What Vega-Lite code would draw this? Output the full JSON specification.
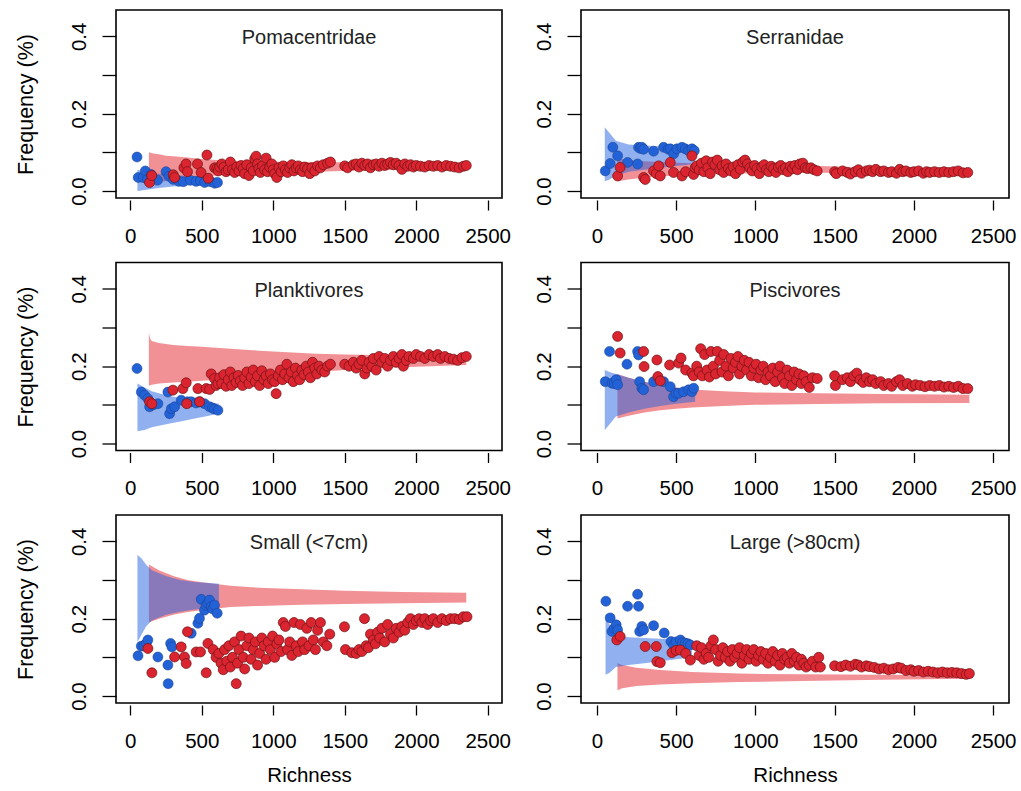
{
"$schema": "https://vega.github.io/schema/vega-lite/v6.json",
"padding": {"left": 14, "top": 9, "right": 0, "bottom": 0},
"background": "white",
"columns": 2,
"align": "each",
"bounds": "flush",
"spacing": {"row": 64.5, "column": 79},
"datasets": {
"rb1": [{"x":130,"y":0.015,"hi":0.1},{"x":160,"y":0.02,"hi":0.097},{"x":200,"y":0.022,"hi":0.095},{"x":250,"y":0.026,"hi":0.091},{"x":300,"y":0.028,"hi":0.09},{"x":400,"y":0.032,"hi":0.087},{"x":500,"y":0.036,"hi":0.083},{"x":600,"y":0.04,"hi":0.08},{"x":800,"y":0.044,"hi":0.077},{"x":1000,"y":0.047,"hi":0.076},{"x":1300,"y":0.05,"hi":0.075},{"x":1600,"y":0.053,"hi":0.074},{"x":2000,"y":0.055,"hi":0.073},{"x":2350,"y":0.057,"hi":0.072}],
"bb1": [{"x":50,"y":0.0,"hi":0.055},{"x":100,"y":0.003,"hi":0.05},{"x":200,"y":0.008,"hi":0.045},{"x":300,"y":0.012,"hi":0.042},{"x":400,"y":0.014,"hi":0.039},{"x":500,"y":0.016,"hi":0.037},{"x":610,"y":0.018,"hi":0.035}],
"b1": [{"x":47,"y":0.088},{"x":55,"y":0.035},{"x":90,"y":0.035},{"x":105,"y":0.052},{"x":120,"y":0.03},{"x":145,"y":0.043},{"x":190,"y":0.028},{"x":250,"y":0.05},{"x":270,"y":0.038},{"x":300,"y":0.03},{"x":340,"y":0.025},{"x":370,"y":0.024},{"x":420,"y":0.028},{"x":460,"y":0.025},{"x":490,"y":0.027},{"x":520,"y":0.022},{"x":560,"y":0.024},{"x":590,"y":0.02},{"x":610,"y":0.022}],
"r1": [{"x":135,"y":0.022},{"x":150,"y":0.04},{"x":300,"y":0.042},{"x":310,"y":0.035},{"x":375,"y":0.06},{"x":390,"y":0.07},{"x":400,"y":0.05},{"x":470,"y":0.07},{"x":495,"y":0.048},{"x":536,"y":0.093},{"x":545,"y":0.033},{"x":590,"y":0.06},{"x":605,"y":0.058},{"x":615,"y":0.052},{"x":625,"y":0.062},{"x":640,"y":0.07},{"x":655,"y":0.062},{"x":670,"y":0.05},{"x":685,"y":0.055},{"x":700,"y":0.075},{"x":715,"y":0.055},{"x":730,"y":0.048},{"x":745,"y":0.062},{"x":760,"y":0.052},{"x":775,"y":0.066},{"x":790,"y":0.058},{"x":800,"y":0.045},{"x":815,"y":0.068},{"x":830,"y":0.04},{"x":845,"y":0.06},{"x":860,"y":0.052},{"x":870,"y":0.083},{"x":880,"y":0.09},{"x":890,"y":0.07},{"x":900,"y":0.058},{"x":910,"y":0.048},{"x":925,"y":0.065},{"x":940,"y":0.055},{"x":950,"y":0.085},{"x":960,"y":0.05},{"x":975,"y":0.062},{"x":990,"y":0.07},{"x":1000,"y":0.055},{"x":1010,"y":0.045},{"x":1025,"y":0.035},{"x":1040,"y":0.06},{"x":1055,"y":0.05},{"x":1070,"y":0.065},{"x":1085,"y":0.055},{"x":1100,"y":0.048},{"x":1115,"y":0.06},{"x":1130,"y":0.068},{"x":1145,"y":0.052},{"x":1160,"y":0.06},{"x":1175,"y":0.065},{"x":1190,"y":0.055},{"x":1205,"y":0.05},{"x":1220,"y":0.062},{"x":1240,"y":0.058},{"x":1255,"y":0.045},{"x":1270,"y":0.06},{"x":1290,"y":0.052},{"x":1310,"y":0.065},{"x":1330,"y":0.06},{"x":1350,"y":0.068},{"x":1380,"y":0.072},{"x":1400,"y":0.075},{"x":1500,"y":0.065},{"x":1520,"y":0.06},{"x":1560,"y":0.068},{"x":1580,"y":0.07},{"x":1600,"y":0.062},{"x":1620,"y":0.072},{"x":1640,"y":0.066},{"x":1660,"y":0.07},{"x":1680,"y":0.06},{"x":1700,"y":0.068},{"x":1720,"y":0.07},{"x":1740,"y":0.064},{"x":1760,"y":0.072},{"x":1780,"y":0.066},{"x":1800,"y":0.07},{"x":1820,"y":0.074},{"x":1840,"y":0.068},{"x":1860,"y":0.072},{"x":1880,"y":0.066},{"x":1900,"y":0.056},{"x":1920,"y":0.07},{"x":1940,"y":0.064},{"x":1960,"y":0.068},{"x":1980,"y":0.062},{"x":2000,"y":0.066},{"x":2030,"y":0.064},{"x":2060,"y":0.062},{"x":2090,"y":0.066},{"x":2120,"y":0.064},{"x":2150,"y":0.066},{"x":2180,"y":0.062},{"x":2210,"y":0.066},{"x":2240,"y":0.064},{"x":2270,"y":0.062},{"x":2300,"y":0.06},{"x":2330,"y":0.064},{"x":2350,"y":0.066}],
"rb2": [{"x":130,"y":0.025,"hi":0.085},{"x":200,"y":0.03,"hi":0.08},{"x":300,"y":0.035,"hi":0.077},{"x":400,"y":0.038,"hi":0.075},{"x":600,"y":0.042,"hi":0.072},{"x":800,"y":0.045,"hi":0.07},{"x":1000,"y":0.046,"hi":0.068},{"x":1400,"y":0.047,"hi":0.065},{"x":1800,"y":0.046,"hi":0.06},{"x":2350,"y":0.044,"hi":0.057}],
"bb2": [{"x":50,"y":0.025,"hi":0.165},{"x":80,"y":0.03,"hi":0.15},{"x":120,"y":0.04,"hi":0.13},{"x":200,"y":0.05,"hi":0.12},{"x":300,"y":0.055,"hi":0.118},{"x":400,"y":0.06,"hi":0.116},{"x":500,"y":0.065,"hi":0.114},{"x":620,"y":0.07,"hi":0.112}],
"b2": [{"x":53,"y":0.052},{"x":84,"y":0.071},{"x":101,"y":0.113},{"x":131,"y":0.091},{"x":194,"y":0.074},{"x":257,"y":0.07},{"x":263,"y":0.113},{"x":275,"y":0.11},{"x":284,"y":0.113},{"x":295,"y":0.108},{"x":358,"y":0.103},{"x":421,"y":0.113},{"x":450,"y":0.108},{"x":463,"y":0.109},{"x":484,"y":0.096},{"x":505,"y":0.109},{"x":537,"y":0.113},{"x":558,"y":0.109},{"x":579,"y":0.104},{"x":600,"y":0.109},{"x":615,"y":0.104}],
"r2": [{"x":131,"y":0.039},{"x":147,"y":0.061},{"x":295,"y":0.035},{"x":305,"y":0.03},{"x":358,"y":0.052},{"x":375,"y":0.045},{"x":390,"y":0.065},{"x":400,"y":0.039},{"x":463,"y":0.074},{"x":484,"y":0.048},{"x":537,"y":0.039},{"x":560,"y":0.05},{"x":600,"y":0.091},{"x":610,"y":0.043},{"x":620,"y":0.06},{"x":630,"y":0.065},{"x":645,"y":0.055},{"x":660,"y":0.072},{"x":675,"y":0.05},{"x":690,"y":0.078},{"x":700,"y":0.06},{"x":715,"y":0.045},{"x":730,"y":0.075},{"x":745,"y":0.068},{"x":760,"y":0.08},{"x":775,"y":0.055},{"x":790,"y":0.065},{"x":800,"y":0.048},{"x":815,"y":0.07},{"x":830,"y":0.058},{"x":845,"y":0.052},{"x":860,"y":0.062},{"x":875,"y":0.045},{"x":890,"y":0.068},{"x":905,"y":0.056},{"x":920,"y":0.075},{"x":935,"y":0.08},{"x":950,"y":0.07},{"x":965,"y":0.06},{"x":980,"y":0.052},{"x":995,"y":0.066},{"x":1010,"y":0.058},{"x":1025,"y":0.045},{"x":1040,"y":0.062},{"x":1055,"y":0.068},{"x":1070,"y":0.055},{"x":1085,"y":0.05},{"x":1100,"y":0.064},{"x":1115,"y":0.058},{"x":1130,"y":0.048},{"x":1145,"y":0.062},{"x":1160,"y":0.066},{"x":1175,"y":0.055},{"x":1190,"y":0.06},{"x":1205,"y":0.05},{"x":1220,"y":0.064},{"x":1235,"y":0.058},{"x":1250,"y":0.066},{"x":1265,"y":0.055},{"x":1280,"y":0.07},{"x":1300,"y":0.072},{"x":1315,"y":0.06},{"x":1330,"y":0.058},{"x":1350,"y":0.06},{"x":1370,"y":0.055},{"x":1390,"y":0.052},{"x":1500,"y":0.05},{"x":1510,"y":0.045},{"x":1550,"y":0.052},{"x":1580,"y":0.048},{"x":1600,"y":0.044},{"x":1630,"y":0.05},{"x":1650,"y":0.055},{"x":1670,"y":0.046},{"x":1700,"y":0.052},{"x":1720,"y":0.054},{"x":1740,"y":0.05},{"x":1760,"y":0.056},{"x":1790,"y":0.05},{"x":1810,"y":0.052},{"x":1840,"y":0.048},{"x":1860,"y":0.05},{"x":1890,"y":0.046},{"x":1910,"y":0.056},{"x":1930,"y":0.05},{"x":1950,"y":0.052},{"x":1980,"y":0.048},{"x":2000,"y":0.05},{"x":2030,"y":0.052},{"x":2060,"y":0.046},{"x":2080,"y":0.05},{"x":2100,"y":0.048},{"x":2130,"y":0.05},{"x":2160,"y":0.048},{"x":2190,"y":0.05},{"x":2220,"y":0.048},{"x":2250,"y":0.05},{"x":2280,"y":0.052},{"x":2310,"y":0.047},{"x":2340,"y":0.048}],
"rb3": [{"x":130,"y":0.15,"hi":0.285},{"x":140,"y":0.15,"hi":0.27},{"x":150,"y":0.152,"hi":0.265},{"x":200,"y":0.155,"hi":0.26},{"x":300,"y":0.158,"hi":0.255},{"x":400,"y":0.16,"hi":0.252},{"x":500,"y":0.162,"hi":0.25},{"x":700,"y":0.167,"hi":0.245},{"x":900,"y":0.172,"hi":0.24},{"x":1100,"y":0.178,"hi":0.236},{"x":1300,"y":0.185,"hi":0.232},{"x":1500,"y":0.19,"hi":0.23},{"x":1800,"y":0.196,"hi":0.228},{"x":2100,"y":0.2,"hi":0.227},{"x":2350,"y":0.203,"hi":0.226}],
"bb3": [{"x":50,"y":0.032,"hi":0.155},{"x":100,"y":0.035,"hi":0.145},{"x":150,"y":0.042,"hi":0.135},{"x":250,"y":0.05,"hi":0.125},{"x":350,"y":0.057,"hi":0.118},{"x":450,"y":0.065,"hi":0.112},{"x":550,"y":0.072,"hi":0.107},{"x":620,"y":0.078,"hi":0.103}],
"b3": [{"x":47,"y":0.194},{"x":77,"y":0.133},{"x":100,"y":0.125},{"x":123,"y":0.116},{"x":135,"y":0.095},{"x":160,"y":0.1},{"x":193,"y":0.103},{"x":263,"y":0.133},{"x":275,"y":0.077},{"x":287,"y":0.09},{"x":310,"y":0.095},{"x":356,"y":0.112},{"x":400,"y":0.108},{"x":426,"y":0.108},{"x":460,"y":0.105},{"x":485,"y":0.108},{"x":519,"y":0.103},{"x":554,"y":0.095},{"x":575,"y":0.092},{"x":589,"y":0.089},{"x":613,"y":0.086}],
"r3": [{"x":135,"y":0.108},{"x":151,"y":0.103},{"x":298,"y":0.138},{"x":368,"y":0.142},{"x":391,"y":0.157},{"x":395,"y":0.103},{"x":473,"y":0.142},{"x":485,"y":0.108},{"x":531,"y":0.142},{"x":555,"y":0.14},{"x":566,"y":0.18},{"x":589,"y":0.168},{"x":600,"y":0.15},{"x":613,"y":0.155},{"x":625,"y":0.17},{"x":640,"y":0.155},{"x":655,"y":0.178},{"x":670,"y":0.148},{"x":685,"y":0.165},{"x":700,"y":0.185},{"x":710,"y":0.15},{"x":725,"y":0.17},{"x":740,"y":0.158},{"x":755,"y":0.176},{"x":770,"y":0.162},{"x":785,"y":0.15},{"x":800,"y":0.17},{"x":815,"y":0.185},{"x":830,"y":0.155},{"x":845,"y":0.172},{"x":860,"y":0.19},{"x":875,"y":0.16},{"x":890,"y":0.175},{"x":905,"y":0.15},{"x":920,"y":0.188},{"x":935,"y":0.165},{"x":950,"y":0.175},{"x":965,"y":0.155},{"x":980,"y":0.18},{"x":995,"y":0.165},{"x":1010,"y":0.16},{"x":1020,"y":0.129},{"x":1035,"y":0.175},{"x":1050,"y":0.19},{"x":1065,"y":0.165},{"x":1080,"y":0.18},{"x":1095,"y":0.205},{"x":1110,"y":0.17},{"x":1125,"y":0.185},{"x":1140,"y":0.16},{"x":1155,"y":0.195},{"x":1170,"y":0.175},{"x":1185,"y":0.165},{"x":1200,"y":0.19},{"x":1215,"y":0.178},{"x":1230,"y":0.2},{"x":1245,"y":0.185},{"x":1260,"y":0.17},{"x":1275,"y":0.21},{"x":1290,"y":0.195},{"x":1305,"y":0.18},{"x":1320,"y":0.2},{"x":1340,"y":0.19},{"x":1360,"y":0.185},{"x":1380,"y":0.2},{"x":1400,"y":0.205},{"x":1500,"y":0.205},{"x":1530,"y":0.2},{"x":1560,"y":0.21},{"x":1580,"y":0.195},{"x":1600,"y":0.205},{"x":1620,"y":0.215},{"x":1640,"y":0.18},{"x":1655,"y":0.195},{"x":1670,"y":0.21},{"x":1690,"y":0.2},{"x":1700,"y":0.22},{"x":1720,"y":0.19},{"x":1740,"y":0.225},{"x":1760,"y":0.21},{"x":1780,"y":0.22},{"x":1800,"y":0.2},{"x":1820,"y":0.215},{"x":1840,"y":0.225},{"x":1860,"y":0.21},{"x":1880,"y":0.22},{"x":1900,"y":0.23},{"x":1910,"y":0.2},{"x":1930,"y":0.215},{"x":1950,"y":0.225},{"x":1980,"y":0.22},{"x":2000,"y":0.23},{"x":2030,"y":0.225},{"x":2060,"y":0.22},{"x":2090,"y":0.23},{"x":2120,"y":0.225},{"x":2150,"y":0.23},{"x":2170,"y":0.22},{"x":2200,"y":0.225},{"x":2230,"y":0.22},{"x":2260,"y":0.218},{"x":2290,"y":0.215},{"x":2320,"y":0.222},{"x":2350,"y":0.225}],
"rb4": [{"x":130,"y":0.065,"hi":0.18},{"x":200,"y":0.072,"hi":0.17},{"x":300,"y":0.08,"hi":0.16},{"x":400,"y":0.086,"hi":0.152},{"x":500,"y":0.09,"hi":0.145},{"x":600,"y":0.093,"hi":0.14},{"x":800,"y":0.097,"hi":0.135},{"x":1000,"y":0.1,"hi":0.132},{"x":1400,"y":0.102,"hi":0.13},{"x":1800,"y":0.104,"hi":0.128},{"x":2350,"y":0.105,"hi":0.126}],
"bb4": [{"x":50,"y":0.035,"hi":0.19},{"x":80,"y":0.05,"hi":0.185},{"x":120,"y":0.07,"hi":0.18},{"x":200,"y":0.08,"hi":0.17},{"x":300,"y":0.09,"hi":0.16},{"x":400,"y":0.097,"hi":0.15},{"x":500,"y":0.103,"hi":0.142},{"x":620,"y":0.108,"hi":0.136}],
"b4": [{"x":53,"y":0.16},{"x":80,"y":0.238},{"x":95,"y":0.156},{"x":110,"y":0.155},{"x":122,"y":0.165},{"x":131,"y":0.152},{"x":190,"y":0.205},{"x":257,"y":0.238},{"x":263,"y":0.229},{"x":270,"y":0.16},{"x":284,"y":0.143},{"x":295,"y":0.139},{"x":358,"y":0.16},{"x":421,"y":0.16},{"x":463,"y":0.147},{"x":484,"y":0.121},{"x":500,"y":0.13},{"x":516,"y":0.13},{"x":547,"y":0.134},{"x":579,"y":0.139},{"x":600,"y":0.134},{"x":611,"y":0.143}],
"r4": [{"x":131,"y":0.277},{"x":147,"y":0.234},{"x":295,"y":0.238},{"x":298,"y":0.199},{"x":379,"y":0.216},{"x":385,"y":0.173},{"x":400,"y":0.162},{"x":459,"y":0.203},{"x":516,"y":0.208},{"x":531,"y":0.221},{"x":560,"y":0.19},{"x":600,"y":0.182},{"x":610,"y":0.175},{"x":630,"y":0.2},{"x":645,"y":0.185},{"x":655,"y":0.245},{"x":665,"y":0.175},{"x":680,"y":0.23},{"x":695,"y":0.19},{"x":710,"y":0.172},{"x":720,"y":0.238},{"x":735,"y":0.2},{"x":750,"y":0.18},{"x":760,"y":0.238},{"x":775,"y":0.215},{"x":790,"y":0.185},{"x":800,"y":0.23},{"x":815,"y":0.2},{"x":830,"y":0.175},{"x":845,"y":0.22},{"x":860,"y":0.195},{"x":875,"y":0.21},{"x":890,"y":0.225},{"x":900,"y":0.18},{"x":915,"y":0.2},{"x":930,"y":0.215},{"x":945,"y":0.19},{"x":960,"y":0.21},{"x":975,"y":0.175},{"x":990,"y":0.195},{"x":1005,"y":0.205},{"x":1020,"y":0.17},{"x":1035,"y":0.19},{"x":1050,"y":0.2},{"x":1065,"y":0.165},{"x":1080,"y":0.185},{"x":1095,"y":0.175},{"x":1110,"y":0.195},{"x":1125,"y":0.16},{"x":1140,"y":0.185},{"x":1155,"y":0.2},{"x":1170,"y":0.17},{"x":1185,"y":0.155},{"x":1200,"y":0.19},{"x":1215,"y":0.175},{"x":1230,"y":0.15},{"x":1245,"y":0.185},{"x":1260,"y":0.165},{"x":1275,"y":0.18},{"x":1290,"y":0.155},{"x":1305,"y":0.175},{"x":1320,"y":0.16},{"x":1340,"y":0.145},{"x":1360,"y":0.17},{"x":1390,"y":0.168},{"x":1500,"y":0.175},{"x":1505,"y":0.15},{"x":1550,"y":0.165},{"x":1580,"y":0.17},{"x":1600,"y":0.16},{"x":1620,"y":0.175},{"x":1640,"y":0.182},{"x":1660,"y":0.165},{"x":1680,"y":0.158},{"x":1700,"y":0.17},{"x":1720,"y":0.16},{"x":1740,"y":0.165},{"x":1760,"y":0.155},{"x":1790,"y":0.16},{"x":1810,"y":0.15},{"x":1840,"y":0.155},{"x":1860,"y":0.148},{"x":1890,"y":0.16},{"x":1910,"y":0.165},{"x":1930,"y":0.15},{"x":1960,"y":0.155},{"x":1990,"y":0.148},{"x":2010,"y":0.152},{"x":2040,"y":0.15},{"x":2070,"y":0.147},{"x":2100,"y":0.15},{"x":2130,"y":0.148},{"x":2160,"y":0.15},{"x":2190,"y":0.146},{"x":2220,"y":0.148},{"x":2250,"y":0.145},{"x":2280,"y":0.148},{"x":2310,"y":0.142},{"x":2340,"y":0.142}],
"rb5": [{"x":130,"y":0.19,"hi":0.34},{"x":200,"y":0.2,"hi":0.325},{"x":300,"y":0.21,"hi":0.31},{"x":400,"y":0.217,"hi":0.3},{"x":500,"y":0.222,"hi":0.294},{"x":700,"y":0.23,"hi":0.285},{"x":900,"y":0.233,"hi":0.28},{"x":1200,"y":0.236,"hi":0.276},{"x":1500,"y":0.238,"hi":0.272},{"x":1900,"y":0.24,"hi":0.269},{"x":2350,"y":0.242,"hi":0.267}],
"bb5": [{"x":50,"y":0.14,"hi":0.365},{"x":80,"y":0.16,"hi":0.355},{"x":110,"y":0.18,"hi":0.34},{"x":150,"y":0.195,"hi":0.325},{"x":250,"y":0.21,"hi":0.31},{"x":350,"y":0.218,"hi":0.3},{"x":450,"y":0.224,"hi":0.295},{"x":550,"y":0.228,"hi":0.292},{"x":620,"y":0.23,"hi":0.29}],
"b5": [{"x":54,"y":0.104},{"x":77,"y":0.129},{"x":95,"y":0.13},{"x":112,"y":0.136},{"x":123,"y":0.145},{"x":193,"y":0.101},{"x":263,"y":0.08},{"x":265,"y":0.032},{"x":282,"y":0.136},{"x":291,"y":0.127},{"x":426,"y":0.162},{"x":473,"y":0.188},{"x":484,"y":0.201},{"x":496,"y":0.25},{"x":519,"y":0.222},{"x":530,"y":0.235},{"x":543,"y":0.24},{"x":554,"y":0.248},{"x":566,"y":0.231},{"x":577,"y":0.225},{"x":589,"y":0.235},{"x":608,"y":0.214}],
"r5": [{"x":123,"y":0.123},{"x":151,"y":0.06},{"x":310,"y":0.101},{"x":356,"y":0.127},{"x":379,"y":0.101},{"x":391,"y":0.084},{"x":400,"y":0.166},{"x":461,"y":0.114},{"x":491,"y":0.114},{"x":531,"y":0.06},{"x":543,"y":0.136},{"x":580,"y":0.12},{"x":600,"y":0.1},{"x":620,"y":0.11},{"x":635,"y":0.085},{"x":650,"y":0.068},{"x":660,"y":0.12},{"x":675,"y":0.09},{"x":690,"y":0.13},{"x":700,"y":0.075},{"x":715,"y":0.1},{"x":730,"y":0.14},{"x":741,"y":0.032},{"x":750,"y":0.085},{"x":760,"y":0.12},{"x":775,"y":0.155},{"x":790,"y":0.1},{"x":800,"y":0.07},{"x":815,"y":0.13},{"x":830,"y":0.15},{"x":845,"y":0.095},{"x":860,"y":0.12},{"x":875,"y":0.14},{"x":890,"y":0.08},{"x":905,"y":0.11},{"x":920,"y":0.15},{"x":935,"y":0.13},{"x":950,"y":0.095},{"x":965,"y":0.14},{"x":980,"y":0.12},{"x":995,"y":0.155},{"x":1010,"y":0.1},{"x":1025,"y":0.135},{"x":1040,"y":0.145},{"x":1055,"y":0.115},{"x":1070,"y":0.19},{"x":1085,"y":0.18},{"x":1100,"y":0.12},{"x":1115,"y":0.14},{"x":1130,"y":0.105},{"x":1145,"y":0.19},{"x":1160,"y":0.13},{"x":1175,"y":0.115},{"x":1190,"y":0.185},{"x":1205,"y":0.14},{"x":1220,"y":0.12},{"x":1235,"y":0.175},{"x":1250,"y":0.13},{"x":1265,"y":0.19},{"x":1280,"y":0.145},{"x":1295,"y":0.12},{"x":1310,"y":0.17},{"x":1330,"y":0.19},{"x":1350,"y":0.14},{"x":1375,"y":0.13},{"x":1395,"y":0.16},{"x":1498,"y":0.179},{"x":1505,"y":0.12},{"x":1550,"y":0.112},{"x":1580,"y":0.11},{"x":1600,"y":0.12},{"x":1620,"y":0.115},{"x":1638,"y":0.2},{"x":1650,"y":0.13},{"x":1665,"y":0.125},{"x":1680,"y":0.16},{"x":1700,"y":0.145},{"x":1715,"y":0.135},{"x":1730,"y":0.165},{"x":1745,"y":0.15},{"x":1760,"y":0.175},{"x":1780,"y":0.14},{"x":1800,"y":0.185},{"x":1820,"y":0.16},{"x":1840,"y":0.15},{"x":1860,"y":0.175},{"x":1880,"y":0.165},{"x":1900,"y":0.18},{"x":1920,"y":0.17},{"x":1940,"y":0.19},{"x":1960,"y":0.2},{"x":1980,"y":0.185},{"x":2000,"y":0.195},{"x":2020,"y":0.2},{"x":2040,"y":0.19},{"x":2060,"y":0.2},{"x":2080,"y":0.185},{"x":2100,"y":0.195},{"x":2120,"y":0.2},{"x":2150,"y":0.19},{"x":2180,"y":0.2},{"x":2210,"y":0.195},{"x":2240,"y":0.2},{"x":2270,"y":0.2},{"x":2300,"y":0.198},{"x":2330,"y":0.205},{"x":2355,"y":0.205}],
"rb6": [{"x":130,"y":0.015,"hi":0.085},{"x":160,"y":0.02,"hi":0.08},{"x":250,"y":0.026,"hi":0.073},{"x":400,"y":0.03,"hi":0.067},{"x":600,"y":0.033,"hi":0.062},{"x":900,"y":0.036,"hi":0.058},{"x":1300,"y":0.039,"hi":0.056},{"x":1800,"y":0.042,"hi":0.055},{"x":2350,"y":0.045,"hi":0.054}],
"bb6": [{"x":55,"y":0.055,"hi":0.2},{"x":80,"y":0.06,"hi":0.185},{"x":120,"y":0.075,"hi":0.155},{"x":200,"y":0.08,"hi":0.152},{"x":300,"y":0.085,"hi":0.15},{"x":400,"y":0.09,"hi":0.148},{"x":500,"y":0.095,"hi":0.145},{"x":600,"y":0.1,"hi":0.14}],
"b6": [{"x":57,"y":0.245},{"x":84,"y":0.202},{"x":95,"y":0.167},{"x":110,"y":0.175},{"x":122,"y":0.184},{"x":131,"y":0.171},{"x":194,"y":0.232},{"x":257,"y":0.263},{"x":263,"y":0.232},{"x":270,"y":0.167},{"x":284,"y":0.18},{"x":295,"y":0.171},{"x":358,"y":0.182},{"x":425,"y":0.163},{"x":467,"y":0.141},{"x":484,"y":0.132},{"x":500,"y":0.14},{"x":527,"y":0.145},{"x":540,"y":0.138},{"x":558,"y":0.137},{"x":575,"y":0.135},{"x":590,"y":0.132}],
"r6": [{"x":126,"y":0.145},{"x":147,"y":0.154},{"x":305,"y":0.128},{"x":375,"y":0.128},{"x":379,"y":0.089},{"x":400,"y":0.086},{"x":474,"y":0.112},{"x":500,"y":0.118},{"x":527,"y":0.119},{"x":560,"y":0.11},{"x":590,"y":0.093},{"x":630,"y":0.13},{"x":645,"y":0.105},{"x":660,"y":0.125},{"x":675,"y":0.095},{"x":690,"y":0.11},{"x":705,"y":0.1},{"x":720,"y":0.13},{"x":735,"y":0.145},{"x":750,"y":0.12},{"x":765,"y":0.09},{"x":780,"y":0.105},{"x":795,"y":0.125},{"x":810,"y":0.1},{"x":825,"y":0.115},{"x":840,"y":0.09},{"x":855,"y":0.12},{"x":870,"y":0.1},{"x":885,"y":0.11},{"x":900,"y":0.125},{"x":915,"y":0.085},{"x":930,"y":0.105},{"x":945,"y":0.12},{"x":960,"y":0.095},{"x":975,"y":0.11},{"x":990,"y":0.12},{"x":1005,"y":0.09},{"x":1020,"y":0.105},{"x":1035,"y":0.115},{"x":1050,"y":0.095},{"x":1065,"y":0.11},{"x":1080,"y":0.085},{"x":1095,"y":0.1},{"x":1110,"y":0.115},{"x":1125,"y":0.09},{"x":1140,"y":0.105},{"x":1155,"y":0.08},{"x":1170,"y":0.11},{"x":1185,"y":0.095},{"x":1200,"y":0.1},{"x":1215,"y":0.085},{"x":1230,"y":0.11},{"x":1245,"y":0.09},{"x":1260,"y":0.1},{"x":1275,"y":0.08},{"x":1290,"y":0.095},{"x":1305,"y":0.085},{"x":1320,"y":0.075},{"x":1340,"y":0.08},{"x":1360,"y":0.09},{"x":1380,"y":0.075},{"x":1400,"y":0.1},{"x":1410,"y":0.075},{"x":1500,"y":0.078},{"x":1540,"y":0.076},{"x":1570,"y":0.08},{"x":1600,"y":0.077},{"x":1630,"y":0.082},{"x":1650,"y":0.08},{"x":1670,"y":0.075},{"x":1700,"y":0.078},{"x":1720,"y":0.076},{"x":1750,"y":0.074},{"x":1780,"y":0.07},{"x":1810,"y":0.072},{"x":1840,"y":0.068},{"x":1870,"y":0.07},{"x":1900,"y":0.074},{"x":1920,"y":0.072},{"x":1950,"y":0.066},{"x":1980,"y":0.068},{"x":2000,"y":0.064},{"x":2030,"y":0.066},{"x":2060,"y":0.062},{"x":2090,"y":0.064},{"x":2120,"y":0.062},{"x":2150,"y":0.06},{"x":2180,"y":0.062},{"x":2210,"y":0.06},{"x":2240,"y":0.061},{"x":2270,"y":0.06},{"x":2300,"y":0.058},{"x":2330,"y":0.056},{"x":2350,"y":0.058}]
},
"concat": [
{"width": 386, "height": 188, "title": "Pomacentridae",
 "encoding": {"x": {"field": "x", "type": "quantitative", "scale": {"domain": [-100, 2600], "nice": false, "zero": false}, "axis": {"values": [0,500,1000,1500,2000,2500], "title": null}},
  "y": {"field": "y", "type": "quantitative", "scale": {"domain": [-0.018, 0.468], "nice": false, "zero": false}, "axis": {"values": [0,0.1,0.2,0.3,0.4], "title": "Frequency (%)"}}},
 "layer": [
  {"data": {"name": "rb1"}, "mark": {"type": "area", "color": "#E3242B", "fillOpacity": 0.5}, "encoding": {"y2": {"field": "hi"}}},
  {"data": {"name": "bb1"}, "mark": {"type": "area", "color": "#2462E0", "fillOpacity": 0.5}, "encoding": {"y2": {"field": "hi"}}},
  {"data": {"name": "b1"}, "mark": {"type": "circle", "size": 100, "fill": "#2262D6", "stroke": "#1B3E8A", "strokeWidth": 0.5, "opacity": 1}, "encoding": {}},
  {"data": {"name": "r1"}, "mark": {"type": "circle", "size": 100, "fill": "#DA2530", "stroke": "#6E1216", "strokeWidth": 0.7, "opacity": 1}, "encoding": {}}
 ]},
{"width": 428, "height": 188, "title": "Serranidae",
 "encoding": {"x": {"field": "x", "type": "quantitative", "scale": {"domain": [-100, 2600], "nice": false, "zero": false}, "axis": {"values": [0,500,1000,1500,2000,2500], "title": null}},
  "y": {"field": "y", "type": "quantitative", "scale": {"domain": [-0.018, 0.468], "nice": false, "zero": false}, "axis": {"values": [0,0.1,0.2,0.3,0.4], "title": null}}},
 "layer": [
  {"data": {"name": "rb2"}, "mark": {"type": "area", "color": "#E3242B", "fillOpacity": 0.5}, "encoding": {"y2": {"field": "hi"}}},
  {"data": {"name": "bb2"}, "mark": {"type": "area", "color": "#2462E0", "fillOpacity": 0.5}, "encoding": {"y2": {"field": "hi"}}},
  {"data": {"name": "b2"}, "mark": {"type": "circle", "size": 100, "fill": "#2262D6", "stroke": "#1B3E8A", "strokeWidth": 0.5, "opacity": 1}, "encoding": {}},
  {"data": {"name": "r2"}, "mark": {"type": "circle", "size": 100, "fill": "#DA2530", "stroke": "#6E1216", "strokeWidth": 0.7, "opacity": 1}, "encoding": {}}
 ]},
{"width": 386, "height": 188, "title": "Planktivores",
 "encoding": {"x": {"field": "x", "type": "quantitative", "scale": {"domain": [-100, 2600], "nice": false, "zero": false}, "axis": {"values": [0,500,1000,1500,2000,2500], "title": null}},
  "y": {"field": "y", "type": "quantitative", "scale": {"domain": [-0.018, 0.468], "nice": false, "zero": false}, "axis": {"values": [0,0.1,0.2,0.3,0.4], "title": "Frequency (%)"}}},
 "layer": [
  {"data": {"name": "rb3"}, "mark": {"type": "area", "color": "#E3242B", "fillOpacity": 0.5}, "encoding": {"y2": {"field": "hi"}}},
  {"data": {"name": "bb3"}, "mark": {"type": "area", "color": "#2462E0", "fillOpacity": 0.5}, "encoding": {"y2": {"field": "hi"}}},
  {"data": {"name": "b3"}, "mark": {"type": "circle", "size": 100, "fill": "#2262D6", "stroke": "#1B3E8A", "strokeWidth": 0.5, "opacity": 1}, "encoding": {}},
  {"data": {"name": "r3"}, "mark": {"type": "circle", "size": 100, "fill": "#DA2530", "stroke": "#6E1216", "strokeWidth": 0.7, "opacity": 1}, "encoding": {}}
 ]},
{"width": 428, "height": 188, "title": "Piscivores",
 "encoding": {"x": {"field": "x", "type": "quantitative", "scale": {"domain": [-100, 2600], "nice": false, "zero": false}, "axis": {"values": [0,500,1000,1500,2000,2500], "title": null}},
  "y": {"field": "y", "type": "quantitative", "scale": {"domain": [-0.018, 0.468], "nice": false, "zero": false}, "axis": {"values": [0,0.1,0.2,0.3,0.4], "title": null}}},
 "layer": [
  {"data": {"name": "rb4"}, "mark": {"type": "area", "color": "#E3242B", "fillOpacity": 0.5}, "encoding": {"y2": {"field": "hi"}}},
  {"data": {"name": "bb4"}, "mark": {"type": "area", "color": "#2462E0", "fillOpacity": 0.5}, "encoding": {"y2": {"field": "hi"}}},
  {"data": {"name": "b4"}, "mark": {"type": "circle", "size": 100, "fill": "#2262D6", "stroke": "#1B3E8A", "strokeWidth": 0.5, "opacity": 1}, "encoding": {}},
  {"data": {"name": "r4"}, "mark": {"type": "circle", "size": 100, "fill": "#DA2530", "stroke": "#6E1216", "strokeWidth": 0.7, "opacity": 1}, "encoding": {}}
 ]},
{"width": 386, "height": 188, "title": "Small (<7cm)",
 "encoding": {"x": {"field": "x", "type": "quantitative", "scale": {"domain": [-100, 2600], "nice": false, "zero": false}, "axis": {"values": [0,500,1000,1500,2000,2500], "title": "Richness"}},
  "y": {"field": "y", "type": "quantitative", "scale": {"domain": [-0.018, 0.468], "nice": false, "zero": false}, "axis": {"values": [0,0.1,0.2,0.3,0.4], "title": "Frequency (%)"}}},
 "layer": [
  {"data": {"name": "rb5"}, "mark": {"type": "area", "color": "#E3242B", "fillOpacity": 0.5}, "encoding": {"y2": {"field": "hi"}}},
  {"data": {"name": "bb5"}, "mark": {"type": "area", "color": "#2462E0", "fillOpacity": 0.5}, "encoding": {"y2": {"field": "hi"}}},
  {"data": {"name": "b5"}, "mark": {"type": "circle", "size": 100, "fill": "#2262D6", "stroke": "#1B3E8A", "strokeWidth": 0.5, "opacity": 1}, "encoding": {}},
  {"data": {"name": "r5"}, "mark": {"type": "circle", "size": 100, "fill": "#DA2530", "stroke": "#6E1216", "strokeWidth": 0.7, "opacity": 1}, "encoding": {}}
 ]},
{"width": 428, "height": 188, "title": "Large (>80cm)",
 "encoding": {"x": {"field": "x", "type": "quantitative", "scale": {"domain": [-100, 2600], "nice": false, "zero": false}, "axis": {"values": [0,500,1000,1500,2000,2500], "title": "Richness"}},
  "y": {"field": "y", "type": "quantitative", "scale": {"domain": [-0.018, 0.468], "nice": false, "zero": false}, "axis": {"values": [0,0.1,0.2,0.3,0.4], "title": null}}},
 "layer": [
  {"data": {"name": "rb6"}, "mark": {"type": "area", "color": "#E3242B", "fillOpacity": 0.5}, "encoding": {"y2": {"field": "hi"}}},
  {"data": {"name": "bb6"}, "mark": {"type": "area", "color": "#2462E0", "fillOpacity": 0.5}, "encoding": {"y2": {"field": "hi"}}},
  {"data": {"name": "b6"}, "mark": {"type": "circle", "size": 100, "fill": "#2262D6", "stroke": "#1B3E8A", "strokeWidth": 0.5, "opacity": 1}, "encoding": {}},
  {"data": {"name": "r6"}, "mark": {"type": "circle", "size": 100, "fill": "#DA2530", "stroke": "#6E1216", "strokeWidth": 0.7, "opacity": 1}, "encoding": {}}
 ]}
],
"config": {
 "view": {"stroke": "#000", "strokeWidth": 1.6},
 "font": "Liberation Sans",
 "axis": {"grid": false, "domain": false, "ticks": true, "tickColor": "#000", "tickWidth": 1.3, "labelColor": "#000", "labelFont": "Liberation Sans", "labelFontSize": 20.5, "titleFont": "Liberation Sans", "titleFontSize": 20.5, "titleFontWeight": "normal", "titleColor": "#000", "labelFlush": false, "labelOverlap": false},
 "axisX": {"tickSize": 10, "offset": 2, "labelPadding": 16, "titlePadding": 14, "labelExpr": "format(datum.value, 'd')"},
 "axisY": {"tickSize": 14, "labelAngle": -90, "labelAlign": "center", "labelBaseline": "bottom", "labelPadding": 13, "titlePadding": 32, "titleFontSize": 21.5, "labelExpr": "round(datum.value*10) % 2 == 0 ? format(datum.value, '.1f') : ''"},
 "title": {"font": "Liberation Sans", "fontSize": 20, "fontWeight": "normal", "color": "#222", "offset": -38, "baseline": "middle", "anchor": "middle"}
}
}
